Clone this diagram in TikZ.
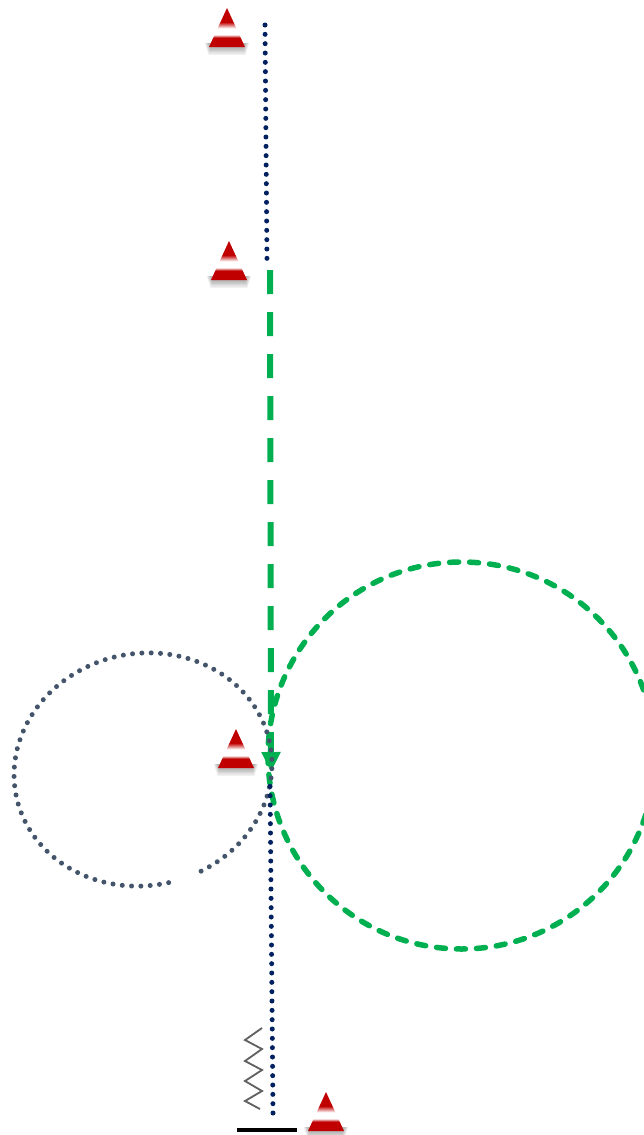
\documentclass[tikz,border=0pt]{standalone}
\usetikzlibrary{arrows.meta}
\definecolor{navydot}{HTML}{002060}
\definecolor{slatedot}{HTML}{44546A}
\definecolor{trackgreen}{HTML}{00B050}
\definecolor{conered}{HTML}{C00000}
\pgfdeclareverticalshading{conestripes}{100bp}{color(0bp)=(conered); color(37bp)=(conered); color(41bp)=(white); color(49bp)=(white); color(57bp)=(conered); color(100bp)=(conered)}
\tikzset{
	dotline/.style={line width=.15cm, line cap=round, dash pattern=on 0pt off .28cm},
	cone/.pic={
		\foreach \s in {1,...,6}
			\fill[black, opacity=.055] (-18-\s*.7,35) -- (18+\s*.7,35) -- (16+\s*.4,39+\s*1.3) -- (-16-\s*.4,39+\s*1.3) -- cycle;
		\shade[shading=conestripes] (0,0) -- (18,39) -- (-18,39) -- cycle;
	}
}
\begin{document}
\begin{tikzpicture}[x=.03cm, y=-.03cm]
	\useasboundingbox (0,0) rectangle (644,1135);

	\pic at (227,8) {cone};
	\pic at (229,241) {cone};
	\pic at (236,729) {cone};
	\pic at (326,1092) {cone};

	\draw[line width=.18cm, trackgreen, dash pattern=on .72cm off .54cm, -{Triangle[width=.54cm, length=.6cm]}] (270,270) -- (271,772);
	\draw[line width=.165cm, trackgreen, line cap=round, dash pattern=on .27cm off .33cm] (461.5,755.5) circle (193.5);

	\begin{scope}[shift={(143,769.5)}, rotate=12]
		\draw[dotline, slatedot] (74:129.5 and 116) arc (74:-273:129.5 and 116);
	\end{scope}

	\draw[dotline, navydot] (265,25) -- (267,262);
	\draw[dotline, navydot] (273,1113) -- (270,778);

	% spring and ground
	\draw[line width=.055cm, black!62] (262,1028) -- (245,1040) -- (262,1049) -- (245,1061) -- (262,1070) -- (245,1081) -- (262,1091) -- (245,1101) -- (260,1109);
	\draw[line width=.12cm] (237,1130) -- (297,1130);
\end{tikzpicture}
\end{document}
